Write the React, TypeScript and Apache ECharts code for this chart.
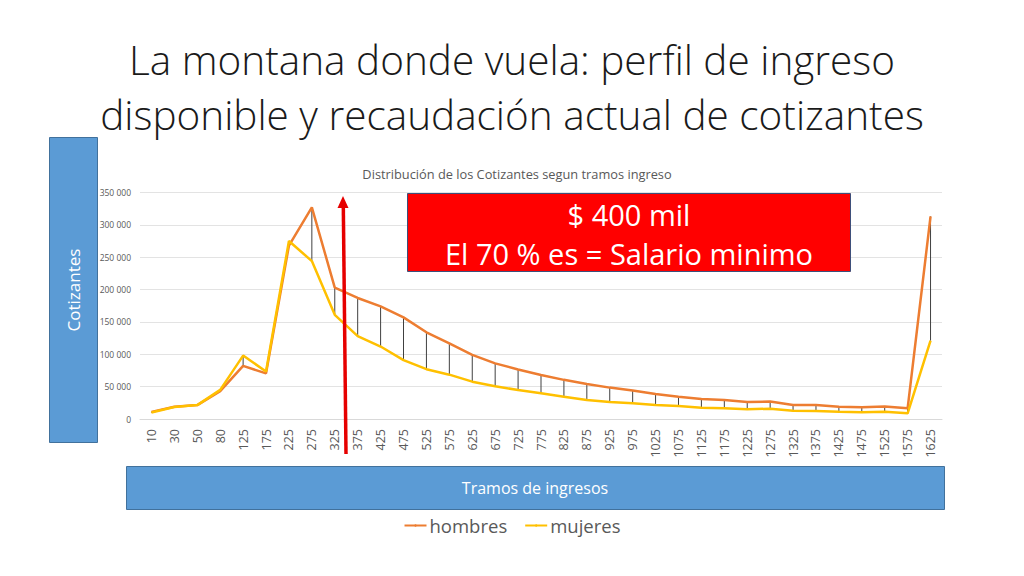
import React, { useEffect, useRef } from 'react';
import * as echarts from 'echarts';

const categories = [
  '10', '30', '50', '80', '125', '175', '225', '275', '325', '375', '425', '475',
  '525', '575', '625', '675', '725', '775', '825', '875', '925', '975', '1025',
  '1075', '1125', '1175', '1225', '1275', '1325', '1375', '1425', '1475', '1525',
  '1575', '1625',
];

const hombres = [
  11000, 19000, 21500, 43000, 82000, 70500, 268000, 327000, 203000, 187000, 174000,
  157000, 134000, 117000, 99000, 86000, 76500, 68000, 60500, 54000, 48500, 44000,
  38700, 34500, 31000, 29400, 26300, 27000, 21600, 21600, 19000, 18000, 19500,
  16500, 313000,
];

const mujeres = [
  10000, 18500, 21500, 45000, 98000, 73500, 275000, 244000, 161000, 128000, 112000,
  91000, 77000, 68500, 57700, 50500, 44800, 39700, 34500, 29500, 26300, 24500,
  21600, 20000, 17500, 16500, 15000, 16000, 12900, 12400, 11300, 10300, 11300,
  8800, 121000,
];

const titleLines = [
  'La montana donde vuela: perfil de ingreso',
  'disponible y recaudación actual de cotizantes',
];

const FONT = '"Open Sans", "Noto Sans", sans-serif';

const App: React.FC = () => {
  const chartRef = useRef<HTMLDivElement>(null);

  useEffect(() => {
    if (!chartRef.current) return;
    const chart = echarts.init(chartRef.current, undefined, { renderer: 'svg' });

    // lineas verticales entre hombres y mujeres (high-low lines)
    const hiLo = categories.map((_, i) => [i, hombres[i], mujeres[i]]);

    const option: echarts.EChartsOption = {
      animation: false,
      backgroundColor: '#ffffff',
      textStyle: { fontFamily: FONT },
      title: [
        {
          text: 'Distribución de los Cotizantes segun tramos ingreso',
          left: 512,
          textAlign: 'center',
          top: 162,
          textStyle: { fontFamily: FONT, fontSize: 12.8, fontWeight: 'normal', color: '#595959' },
        },
      ],
      legend: {
        data: ['hombres', 'mujeres'],
        left: 'center',
        top: 511,
        itemWidth: 22,
        itemHeight: 3,
        itemGap: 17,
        textStyle: { fontFamily: FONT, fontSize: 18.5, color: '#595959', padding: [0, 0, 0, -2] },
      },
      grid: { left: 140, right: 82, top: 192.5, bottom: 157 },
      xAxis: {
        type: 'category',
        data: categories,
        boundaryGap: true,
        axisLine: { lineStyle: { color: '#d9d9d9' } },
        axisTick: { show: false },
        axisLabel: { rotate: 90, interval: 0, fontSize: 12.5, color: '#595959', margin: 10, fontFamily: FONT },
      },
      yAxis: {
        type: 'value',
        min: 0,
        max: 350000,
        interval: 50000,
        axisLine: { show: false },
        axisTick: { show: false },
        splitLine: { lineStyle: { color: '#e3e3e3' } },
        axisLabel: {
          fontSize: 8.5,
          color: '#595959',
          margin: 9,
          fontFamily: FONT,
          formatter: (v: number) => (v === 0 ? '0' : `${Math.round(v / 1000)} 000`),
        },
      },
      series: [
        {
          name: 'hiLo',
          type: 'custom',
          data: hiLo,
          encode: { x: 0, y: [1, 2] },
          z: 1,
          renderItem: (params: any, api: any) => {
            const i = api.value(0);
            const p1 = api.coord([i, api.value(1)]);
            const p2 = api.coord([i, api.value(2)]);
            return {
              type: 'line',
              shape: { x1: p1[0], y1: p1[1], x2: p2[0], y2: p2[1] },
              style: { stroke: '#404040', lineWidth: 1 },
            };
          },
        } as any,
        {
          name: 'hombres',
          type: 'line',
          data: hombres,
          symbol: 'none',
          z: 3,
          lineStyle: { color: '#ed7d31', width: 2.5 },
          itemStyle: { color: '#ed7d31' },
        },
        {
          name: 'mujeres',
          type: 'line',
          data: mujeres,
          symbol: 'none',
          z: 4,
          lineStyle: { color: '#ffc000', width: 2.5 },
          itemStyle: { color: '#ffc000' },
        },
      ],
      graphic: [
        // titulo de la diapositiva, una linea por texto
        ...titleLines.map((line, k) => ({
          type: 'text' as const,
          z: 40,
          x: 512,
          y: 59 + k * 55.5,
          style: {
            text: line,
            fill: '#1a1a1a',
            font: `300 40.5px ${FONT}`,
            align: 'center' as const,
            verticalAlign: 'middle' as const,
          },
        })),
        // caja eje Y
        {
          type: 'rect',
          z: 50,
          shape: { x: 49.5, y: 137.5, width: 48, height: 305 },
          style: { fill: '#5b9bd5', stroke: '#41719c', lineWidth: 1 },
        },
        {
          type: 'text',
          z: 51,
          x: 73,
          y: 290,
          rotation: Math.PI / 2,
          style: {
            text: 'Cotizantes',
            fill: '#ffffff',
            font: `17px ${FONT}`,
            align: 'center',
            verticalAlign: 'middle',
          },
        },
        // caja eje X
        {
          type: 'rect',
          z: 50,
          shape: { x: 126.5, y: 466.5, width: 818, height: 43 },
          style: { fill: '#5b9bd5', stroke: '#41719c', lineWidth: 1 },
        },
        {
          type: 'text',
          z: 51,
          x: 535,
          y: 488,
          style: {
            text: 'Tramos de ingresos',
            fill: '#ffffff',
            font: `16px ${FONT}`,
            align: 'center',
            verticalAlign: 'middle',
          },
        },
        // caja roja
        {
          type: 'rect',
          z: 60,
          shape: { x: 407.5, y: 193.5, width: 443, height: 78 },
          style: { fill: '#ff0000', stroke: '#3e4f7a', lineWidth: 1 },
        },
        {
          type: 'text',
          z: 61,
          x: 629,
          y: 214,
          style: {
            text: '$ 400 mil',
            fill: '#ffffff',
            font: `29px ${FONT}`,
            align: 'center',
            verticalAlign: 'middle',
          },
        },
        {
          type: 'text',
          z: 61,
          x: 629,
          y: 253,
          style: {
            text: 'El 70 % es = Salario minimo',
            fill: '#ffffff',
            font: `29px ${FONT}`,
            align: 'center',
            verticalAlign: 'middle',
          },
        },
        // flecha roja
        {
          type: 'line',
          z: 70,
          shape: { x1: 346, y1: 454, x2: 343.3, y2: 205 },
          style: { stroke: '#e60000', lineWidth: 3.5 },
        },
        {
          type: 'polygon',
          z: 70,
          shape: { points: [[343, 196], [337.5, 208], [348.5, 208]] },
          style: { fill: '#e60000' },
        },
      ],
    };

    chart.setOption(option);
    return () => chart.dispose();
  }, []);

  return (
    <div
      ref={chartRef}
      style={{ position: 'fixed', left: 0, top: 0, width: '1024px', height: '576px' }}
    />
  );
};

export default App;
